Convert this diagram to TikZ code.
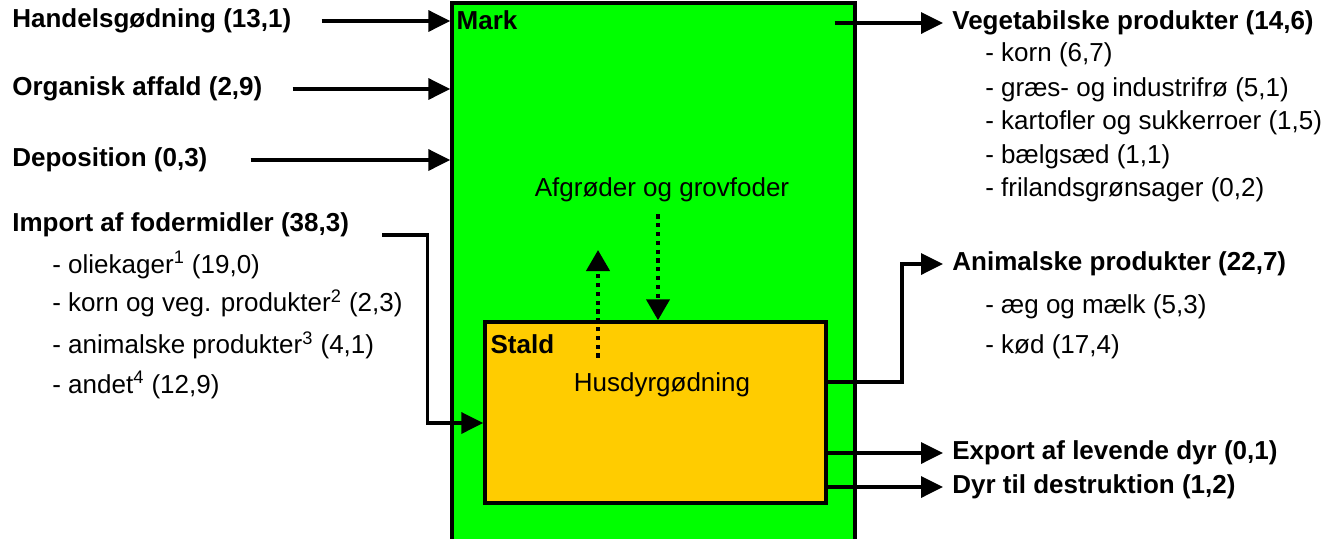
\documentclass[tikz,border=0pt]{standalone}
\usepackage{fontspec}
\setmainfont{Liberation Sans}
\usetikzlibrary{arrows.meta, positioning, calc}
\definecolor{markGreen}{HTML}{00FF00}
\definecolor{staldOrange}{HTML}{FFCC00}

\begin{document}
\begin{tikzpicture}[
    x=0.02cm, y=-0.02cm,
    field/.style={rectangle, draw=black, line width=2pt, fill=markGreen,
                 minimum width=8.06cm, minimum height=10.84cm, inner sep=0pt},
    barn/.style={rectangle, draw=black, line width=2pt, fill=staldOrange,
                 minimum width=6.82cm, minimum height=3.62cm, inner sep=0pt},
    head/.style={anchor=west, inner sep=0pt, font=\fontsize{14.8}{17}\selectfont\bfseries},
    item/.style={anchor=west, inner sep=0pt, font=\fontsize{14.8}{17}\selectfont},
    flow/.style={line width=2pt, -{Triangle[length=0.44cm, width=0.42cm]}},
    dotflow/.style={line width=2.4pt, dash pattern=on 2.4pt off 2.6pt,
                 -{Triangle[length=0.42cm, width=0.46cm]}},
  ]
    \useasboundingbox (0,0) rectangle (1328,538);

    % boxes
    \node[field] (mark) at (653.5,274) {};
    \node[barn] (stald) at (655.5,412.5) {};
    \node[head] (marklbl) at ([xshift=0.12cm, yshift=-0.38cm]mark.north west) {Mark};
    \node[head] (staldlbl) at ([xshift=0.14cm, yshift=-0.48cm]stald.north west) {Stald};
    \node[item, anchor=center] (afgr) at (662,190) {Afgrøder og grovfoder};
    \node[item, anchor=center] (husdyr) at (662,385) {Husdyrgødning};

    % inputs
    \node[head] (hg) at (12,21) {Handelsgødning (13,1)};
    \node[head] (org) at (12,89) {Organisk affald (2,9)};
    \node[head] (dep) at (12,160) {Deposition (0,3)};
    \node[head] (imp) at (12,225) {Import af fodermidler (38,3)};
    \node[item] (imp1) at (52,265) {- oliekager\textsuperscript{1} (19,0)};
    \node[item] (imp2) at (52,303) {- korn og veg. produkter\textsuperscript{2} (2,3)};
    \node[item] (imp3) at (52,345) {- animalske produkter\textsuperscript{3} (4,1)};
    \node[item] (imp4) at (52,385) {- andet\textsuperscript{4} (12,9)};

    % outputs
    \node[head] (veg) at (952,23) {Vegetabilske produkter (14,6)};
    \node[item] (veg1) at (985,55) {- korn (6,7)};
    \node[item] (veg2) at (985,90) {- græs- og industrifrø (5,1)};
    \node[item] (veg3) at (985,123) {- kartofler og sukkerroer (1,5)};
    \node[item] (veg4) at (985,157) {- bælgsæd (1,1)};
    \node[item] (veg5) at (985,190) {- frilandsgrønsager (0,2)};
    \node[head] (anim) at (952,264) {Animalske produkter (22,7)};
    \node[item] (anim1) at (985,307) {- æg og mælk (5,3)};
    \node[item] (anim2) at (985,347) {- kød (17,4)};
    \node[head] (exp) at (952,453) {Export af levende dyr (0,1)};
    \node[head] (destr) at (952,487) {Dyr til destruktion (1,2)};

    % arrows in
    \draw[flow] ([xshift=0.6cm]hg.east) -- (hg.east -| mark.west);
    \draw[flow] ([xshift=0.6cm]org.east) -- (org.east -| mark.west);
    \draw[flow] ([xshift=0.86cm]dep.east) -- (dep.east -| mark.west);
    \draw[flow] ([xshift=0.66cm, yshift=-0.2cm]imp.east) -- ++(0.9cm,0) |- ([yshift=-0.21cm]stald.west);

    % arrows out
    \draw[flow] (veg.west -| mark.east) ++(-0.44cm,0) -- ([xshift=-0.18cm]veg.west);
    \draw[flow] ([yshift=0.61cm]stald.east) -| ([xshift=-1cm]anim.west) -- ([xshift=-0.18cm]anim.west);
    \draw[flow] (exp.west -| stald.east) -- ([xshift=-0.18cm]exp.west);
    \draw[flow] (destr.west -| stald.east) -- ([xshift=-0.18cm]destr.west);

    % internal flows
    \coordinate (up) at ([xshift=-1.28cm, yshift=0.3cm]husdyr.north);
    \coordinate (dn) at ([xshift=-0.08cm, yshift=-0.24cm]afgr.south);
    \draw[dotflow] (up) -- (up |- 0,250);
    \draw[dotflow] (dn) -- (dn |- stald.north);
\end{tikzpicture}
\end{document}
